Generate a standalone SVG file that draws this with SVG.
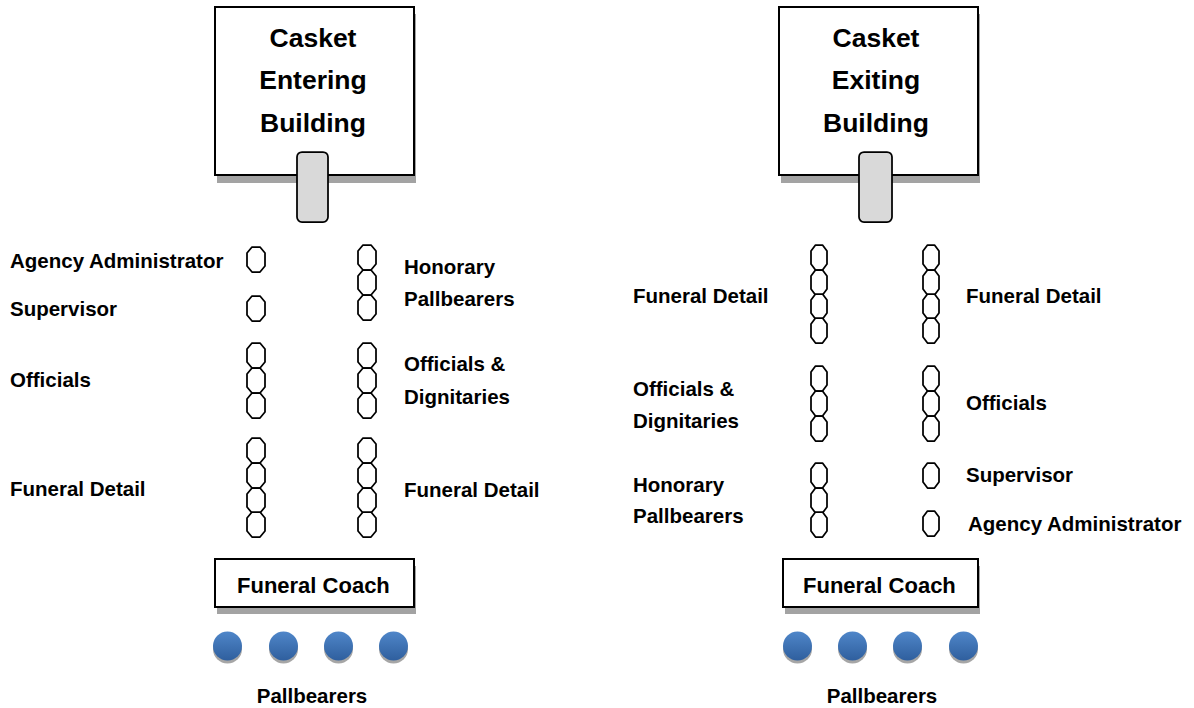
<svg xmlns="http://www.w3.org/2000/svg" xmlns:xlink="http://www.w3.org/1999/xlink" width="1194" height="708" viewBox="0 0 1194 708">
<style>
text{font-family:"Liberation Sans",Arial,sans-serif;font-weight:bold;fill:#000}
.t{font-size:26.5px;text-anchor:middle}
.l{font-size:20.5px}
.c{font-size:22px}
.pb{font-size:20.5px;text-anchor:middle}
.box{fill:#fff;stroke:#000;stroke-width:2}
.sh{fill:#a3a3a3}
.tab{fill:#d9d9d9;stroke:#000;stroke-width:1.75}
.p{fill:#fff;stroke:#000;stroke-width:1.75;stroke-linejoin:round}
.dot{fill:url(#bg)}
.dsh{fill:#a6a6a6}
</style>
<defs>
<path id="pw" class="p" d="M5,0 H13 L18,6 V19 L13,25 H5 L0,19 V6 Z"/>
<path id="pn" class="p" d="M4.5,0 H11.5 L16,6 V19 L11.5,25 H4.5 L0,19 V6 Z"/>
<linearGradient id="bg" x1="0" y1="0" x2="0" y2="1">
<stop offset="0" stop-color="#4f86c9"/>
<stop offset="1" stop-color="#2f5f9e"/>
</linearGradient>
<g id="ball"><circle class="dsh" cx="0" cy="3" r="14.5"/><circle class="dot" cx="0" cy="0" r="14.5"/></g>
</defs>
<rect width="1194" height="708" fill="#fff"/>
<g id="connectors"/>

<!-- LEFT DIAGRAM -->
<g id="casket-entering">
<rect class="sh" x="217" y="14" width="199" height="169"/>
<rect class="box" x="215" y="7" width="199" height="168"/>
<text class="t" x="313" y="47">Casket</text>
<text class="t" x="313" y="89">Entering</text>
<text class="t" x="313" y="132">Building</text>
<rect class="tab" x="297" y="152" width="31" height="70" rx="5"/>
</g>
<g id="l-agency-admin">
<text class="l" x="10" y="268">Agency Administrator</text>
<use xlink:href="#pw" x="247" y="247"/>
</g>
<g id="l-supervisor">
<text class="l" x="10" y="316">Supervisor</text>
<use xlink:href="#pw" x="247" y="296"/>
</g>
<g id="l-officials">
<text class="l" x="10" y="387">Officials</text>
<use xlink:href="#pw" x="247" y="343"/><use xlink:href="#pw" x="247" y="368"/><use xlink:href="#pw" x="247" y="393"/>
</g>
<g id="l-funeral-detail-1">
<text class="l" x="10" y="496">Funeral Detail</text>
<use xlink:href="#pw" x="247" y="438"/><use xlink:href="#pw" x="247" y="463"/><use xlink:href="#pw" x="247" y="488"/><use xlink:href="#pw" x="247" y="512"/>
</g>
<g id="l-honorary">
<text class="l" x="404" y="274">Honorary</text>
<text class="l" x="404" y="306">Pallbearers</text>
<use xlink:href="#pw" x="358" y="245"/><use xlink:href="#pw" x="358" y="270"/><use xlink:href="#pw" x="358" y="295"/>
</g>
<g id="l-officials-dignitaries">
<text class="l" x="404" y="371">Officials &amp;</text>
<text class="l" x="404" y="404">Dignitaries</text>
<use xlink:href="#pw" x="358" y="343"/><use xlink:href="#pw" x="358" y="368"/><use xlink:href="#pw" x="358" y="393"/>
</g>
<g id="l-funeral-detail-2">
<text class="l" x="404" y="497">Funeral Detail</text>
<use xlink:href="#pw" x="358" y="438"/><use xlink:href="#pw" x="358" y="463"/><use xlink:href="#pw" x="358" y="488"/><use xlink:href="#pw" x="358" y="512"/>
</g>
<g id="l-funeral-coach">
<rect class="sh" x="217" y="566" width="199" height="48"/>
<rect class="box" x="215" y="559" width="199" height="48"/>
<text class="c" x="237" y="593">Funeral Coach</text>
</g>
<g id="l-pallbearers">
<use xlink:href="#ball" x="227.5" y="646"/>
<use xlink:href="#ball" x="283.5" y="646"/>
<use xlink:href="#ball" x="338.5" y="646"/>
<use xlink:href="#ball" x="393.5" y="646"/>
<text class="pb" x="312" y="703">Pallbearers</text>
</g>

<!-- RIGHT DIAGRAM -->
<g id="casket-exiting">
<rect class="sh" x="781" y="14" width="199" height="169"/>
<rect class="box" x="779" y="7" width="199" height="168"/>
<text class="t" x="876" y="47">Casket</text>
<text class="t" x="876" y="89">Exiting</text>
<text class="t" x="876" y="132">Building</text>
<rect class="tab" x="859" y="152" width="33" height="70" rx="5"/>
</g>
<g id="r-funeral-detail-1">
<text class="l" x="633" y="303">Funeral Detail</text>
<use xlink:href="#pn" x="811" y="245"/><use xlink:href="#pn" x="811" y="270"/><use xlink:href="#pn" x="811" y="294"/><use xlink:href="#pn" x="811" y="318"/>
</g>
<g id="r-officials-dignitaries">
<text class="l" x="633" y="396">Officials &amp;</text>
<text class="l" x="633" y="428">Dignitaries</text>
<use xlink:href="#pn" x="811" y="366"/><use xlink:href="#pn" x="811" y="391"/><use xlink:href="#pn" x="811" y="416"/>
</g>
<g id="r-honorary">
<text class="l" x="633" y="492">Honorary</text>
<text class="l" x="633" y="523">Pallbearers</text>
<use xlink:href="#pn" x="811" y="463"/><use xlink:href="#pn" x="811" y="488"/><use xlink:href="#pn" x="811" y="512"/>
</g>
<g id="r-funeral-detail-2">
<text class="l" x="966" y="303">Funeral Detail</text>
<use xlink:href="#pn" x="923" y="245"/><use xlink:href="#pn" x="923" y="270"/><use xlink:href="#pn" x="923" y="294"/><use xlink:href="#pn" x="923" y="318"/>
</g>
<g id="r-officials">
<text class="l" x="966" y="410">Officials</text>
<use xlink:href="#pn" x="923" y="366"/><use xlink:href="#pn" x="923" y="391"/><use xlink:href="#pn" x="923" y="416"/>
</g>
<g id="r-supervisor">
<text class="l" x="966" y="482">Supervisor</text>
<use xlink:href="#pn" x="923" y="463"/>
</g>
<g id="r-agency-admin">
<text class="l" x="968" y="531">Agency Administrator</text>
<use xlink:href="#pn" x="923" y="511"/>
</g>
<g id="r-funeral-coach">
<rect class="sh" x="785" y="566" width="195" height="48"/>
<rect class="box" x="783" y="559" width="195" height="48"/>
<text class="c" x="803" y="593">Funeral Coach</text>
</g>
<g id="r-pallbearers">
<use xlink:href="#ball" x="797.5" y="646"/>
<use xlink:href="#ball" x="852.5" y="646"/>
<use xlink:href="#ball" x="907.5" y="646"/>
<use xlink:href="#ball" x="963.5" y="646"/>
<text class="pb" x="882" y="703">Pallbearers</text>
</g>
</svg>
